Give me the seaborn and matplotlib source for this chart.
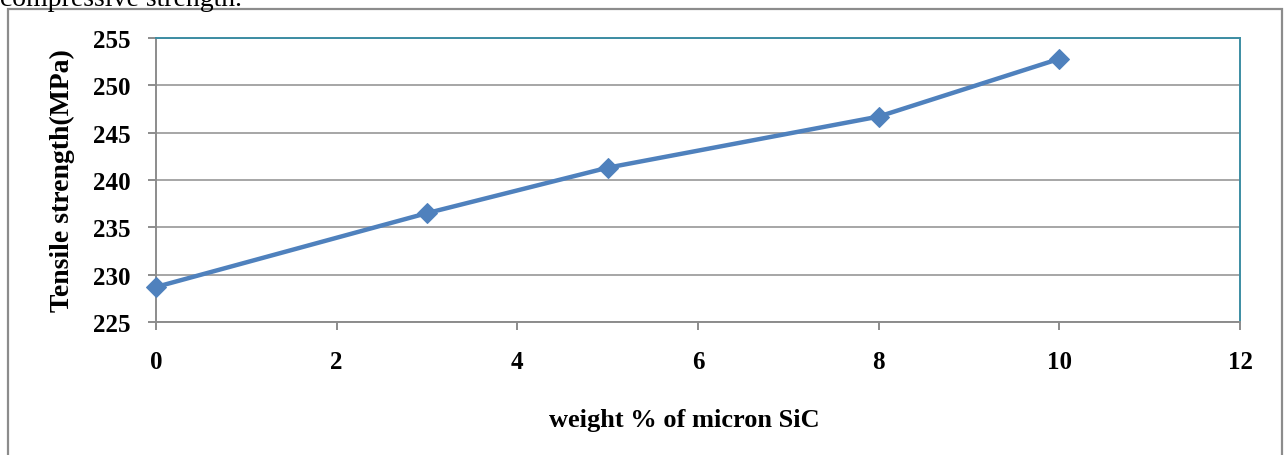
import matplotlib
matplotlib.use("Agg")
import matplotlib.pyplot as plt
import seaborn as sns
from matplotlib.patches import Rectangle

# values
sic_wt = [0, 3, 5, 8, 10]
tensile = [228.7, 236.5, 241.3, 246.7, 252.8]
x_ticks = [0, 2, 4, 6, 8, 10, 12]
y_ticks = [225, 230, 235, 240, 245, 250, 255]

sns.set_style("white")
plt.rcParams["font.family"] = ["Liberation Serif", "DejaVu Serif"]
plt.rcParams["text.color"] = "black"
plt.rcParams["xtick.color"] = "#8C8C8C"
plt.rcParams["ytick.color"] = "#8C8C8C"

fig = plt.figure(figsize=(12.87, 4.56), dpi=100)
ax = fig.add_axes([156 / 1287, 1 - 323 / 456, (1240 - 156) / 1287, (323 - 39) / 456])

sns.lineplot(x=sic_wt, y=tensile, ax=ax, color="#4F81BD", linewidth=3.2,
             marker="D", markersize=10, markeredgecolor="#4F81BD", clip_on=False,
             zorder=5)

ax.set_xlim(0, 12)
ax.set_ylim(225, 255)
ax.set_xticks(x_ticks)
ax.set_yticks(y_ticks)
ax.set_xticklabels([str(t) for t in x_ticks], fontsize=18, fontweight="bold", color="black")
ax.set_yticklabels([str(t) for t in y_ticks], fontsize=18, fontweight="bold", color="black")
ax.grid(axis="y", color="#A6A6A6", linewidth=1.4)
ax.grid(axis="x", visible=False)
ax.set_axisbelow(True)

for side in ["left", "bottom"]:
    ax.spines[side].set_color("#8C8C8C")
    ax.spines[side].set_linewidth(1.4)
for side in ["top", "right"]:
    ax.spines[side].set_color("#3C8DA3")
    ax.spines[side].set_linewidth(1.4)

ax.tick_params(axis="both", direction="out", length=6, width=1.4, color="#8C8C8C",
               bottom=True, left=True, top=False, right=False)
ax.tick_params(axis="x", pad=14)
ax.tick_params(axis="y", pad=12)

ax.set_xlabel("")
ax.set_ylabel("")
fig.text(684 / 1287, 1 - 421 / 456, "weight % of micron SiC", fontsize=19,
         fontweight="bold", ha="center", va="center")
fig.text(62 / 1287, 1 - 181 / 456, "Tensile strength(MPa)", fontsize=20,
         fontweight="bold", ha="center", va="center", rotation=90)

# outer chart frame and the clipped caption above it
fig.patches.append(Rectangle((8 / 1287, -0.05), (1282 - 8) / 1287, 1.05 - 10 / 456,
                             transform=fig.transFigure, fill=False,
                             edgecolor="#8C8C8C", linewidth=1.6))
fig.text(0.0, 1 - 6 / 456, "compressive strength.", fontsize=20,
         ha="left", va="baseline")

fig.savefig("out.png", dpi=100)
